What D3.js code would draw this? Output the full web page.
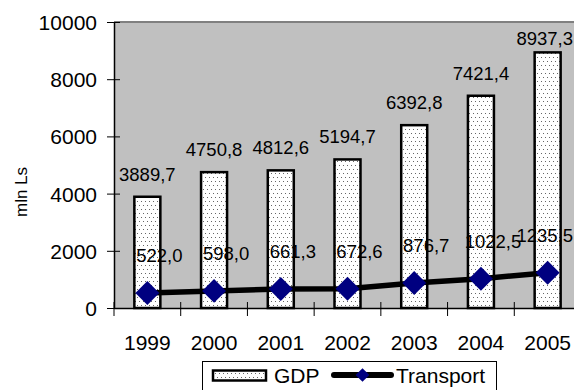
<!DOCTYPE html>
<html>
<head>
<meta charset="utf-8">
<script src="https://cdn.jsdelivr.net/npm/d3@7"></script>
<style>
  html, body { margin: 0; padding: 0; background: #fff; }
  svg { display: block; font-family: "Liberation Sans", Arial, sans-serif; }
</style>
</head>
<body>
<svg id="chart" width="574" height="390"></svg>
<script>
// Data
const years = ["1999", "2000", "2001", "2002", "2003", "2004", "2005"];
const gdp = [3889.7, 4750.8, 4812.6, 5194.7, 6392.8, 7421.4, 8937.3];
const transport = [522.0, 598.0, 661.3, 672.6, 876.7, 1022.5, 1235.5];
const yTicks = [0, 2000, 4000, 6000, 8000, 10000];
const seriesNames = ["GDP", "Transport"];

const fmt = v => v.toFixed(1).replace(".", ",");
const FONT = "Liberation Sans, Arial, sans-serif";

const svg = d3.select("#chart");
const W = 574;

// Plot area (right edge runs past the page edge)
const plot = { left: 114, top: 22, right: 581, bottom: 308 };

const x = d3.scaleBand().domain(years).range([plot.left, plot.right]).padding(0);
const y = d3.scaleLinear().domain([0, 10000]).range([plot.bottom, plot.top]);

// Keep a centred label inside the page on the right
function keepInside() {
  const w = this.getComputedTextLength();
  const xx = +this.getAttribute("x");
  if (xx + w / 2 > W - 1) this.setAttribute("x", W - 1 - w / 2);
}

// Dotted fill for GDP bars
const defs = svg.append("defs");
const pat = defs.append("pattern")
  .attr("id", "dots").attr("patternUnits", "userSpaceOnUse")
  .attr("width", 8).attr("height", 8);
pat.append("rect").attr("width", 8).attr("height", 8).attr("fill", "#fff");
[[1, 1], [5, 1], [3, 5], [7, 5]].forEach(([px, py]) =>
  pat.append("rect").attr("x", px).attr("y", py).attr("width", 1).attr("height", 1).attr("fill", "#666"));

// Plot background
svg.append("rect")
  .attr("x", plot.left).attr("y", plot.top)
  .attr("width", plot.right - plot.left).attr("height", plot.bottom - plot.top)
  .attr("fill", "#c0c0c0");
svg.append("line")
  .attr("x1", plot.left).attr("x2", plot.right)
  .attr("y1", plot.top).attr("y2", plot.top)
  .attr("stroke", "#808080").attr("stroke-width", 2);

// GDP bars
const barW = 26;
svg.append("g").selectAll("rect").data(years).join("rect")
  .attr("x", (d) => x(d) + x.bandwidth() / 2 - barW / 2)
  .attr("y", (d, i) => y(gdp[i]))
  .attr("width", barW)
  .attr("height", (d, i) => y(0) - y(gdp[i]))
  .attr("fill", "url(#dots)")
  .attr("stroke", "#000").attr("stroke-width", 2.5);

// Y axis
const yAxis = d3.axisLeft(y).tickValues(yTicks).tickFormat(d3.format("d"))
  .tickSizeInner(7).tickSizeOuter(0).tickPadding(10);
const gy = svg.append("g").attr("transform", `translate(${plot.left},0)`).call(yAxis);
gy.select(".domain").attr("stroke", "#000").attr("stroke-width", 1.5);
gy.selectAll(".tick line").attr("stroke", "#000").attr("x2", 6).attr("x1", -7);
gy.selectAll(".tick text").attr("font-size", 21).attr("fill", "#000")
  .attr("font-family", FONT).attr("x", -17).attr("dy", "0.36em");

// X axis
const xAxis = d3.axisBottom(x).tickSize(0);
const gx = svg.append("g").attr("transform", `translate(0,${plot.bottom})`).call(xAxis);
gx.select(".domain").attr("stroke", "#000").attr("stroke-width", 1.5);
gx.selectAll(".tick text").attr("font-size", 21).attr("fill", "#000")
  .attr("font-family", FONT).attr("y", 42).attr("dy", 0);
// Category separators crossing the axis
const bounds = years.map(d => x(d)).concat([x(years[years.length - 1]) + x.bandwidth()]);
svg.append("g").selectAll("line").data(bounds).join("line")
  .attr("x1", d => d).attr("x2", d => d)
  .attr("y1", plot.bottom - 6).attr("y2", plot.bottom + 8)
  .attr("stroke", "#000").attr("stroke-width", 1);

// Y axis title
svg.append("text")
  .attr("transform", `translate(27,192) rotate(-90)`)
  .attr("text-anchor", "middle")
  .attr("font-size", 17).attr("fill", "#000")
  .text("mln Ls");

// Transport line
const cx = d => x(d) + x.bandwidth() / 2;
const line = d3.line().x((d, i) => cx(years[i])).y(d => y(d));
svg.append("path").datum(transport)
  .attr("d", line).attr("fill", "none")
  .attr("stroke", "#000").attr("stroke-width", 5.5).attr("stroke-linejoin", "round");

const diamond = d3.symbol().type(d3.symbolDiamond2).size(365);
svg.append("g").selectAll("path").data(transport).join("path")
  .attr("transform", (d, i) => `translate(${cx(years[i])},${y(d)})`)
  .attr("d", diamond)
  .attr("fill", "#000080");

// GDP value labels
svg.append("g").selectAll("text").data(gdp).join("text")
  .attr("x", (d, i) => cx(years[i]))
  .attr("y", d => Math.max(y(d) - 16, 45))
  .attr("text-anchor", "middle")
  .attr("font-size", 18.5).attr("fill", "#000")
  .text(d => fmt(d))
  .each(keepInside);

// Transport value labels
svg.append("g").selectAll("text").data(transport).join("text")
  .attr("x", (d, i) => cx(years[i]) + 12)
  .attr("y", d => y(d) - 31)
  .attr("text-anchor", "middle")
  .attr("font-size", 18.5).attr("fill", "#000")
  .text(d => fmt(d))
  .each(keepInside);

// Legend
const lg = svg.append("g");
lg.append("rect").attr("x", 202.5).attr("y", 361.5).attr("width", 294).attr("height", 34)
  .attr("fill", "#fff").attr("stroke", "#000").attr("stroke-width", 1);
lg.append("rect").attr("x", 213).attr("y", 370.5).attr("width", 53).attr("height", 10)
  .attr("fill", "url(#dots)").attr("stroke", "#000").attr("stroke-width", 2.5);
lg.append("text").attr("x", 274).attr("y", 383).attr("font-size", 21).attr("fill", "#000").text(seriesNames[0]);
lg.append("line").attr("x1", 334).attr("x2", 391).attr("y1", 375).attr("y2", 375)
  .attr("stroke", "#000").attr("stroke-width", 6).attr("stroke-linecap", "round");
lg.append("path").attr("transform", "translate(362.5,375)")
  .attr("d", d3.symbol().type(d3.symbolDiamond2).size(120)).attr("fill", "#000080");
lg.append("text").attr("x", 396).attr("y", 383).attr("font-size", 21).attr("fill", "#000").text(seriesNames[1]);
</script>
</body>
</html>
